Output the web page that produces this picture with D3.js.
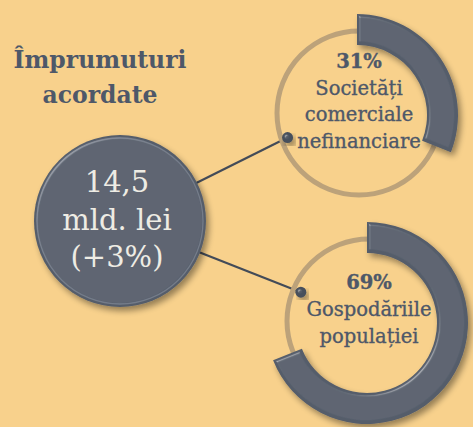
<!DOCTYPE html>
<html>
<head>
<meta charset="utf-8">
<script src="https://cdn.jsdelivr.net/npm/d3@7"></script>
<style>
  body { margin: 0; background: #F8D18C; }
  svg { display: block; }
</style>
</head>
<body>
<div id="canvas"></div>
<script>
"use strict"

/* chart data */
let titleLines = ["Împrumuturi", "acordate"];
let totalLines = ["14,5", "mld. lei", "(+3%)"];
let shares = [31, 69];
let segmentLabels = [["Societăți", "comerciale", "nefinanciare"], ["Gospodăriile", "populației"]];

/* layout */
let width = 473, height = 427;
let font = "'DejaVu Serif', 'Liberation Serif', serif";
let textColor = "#4E5869";
let darkFill = "#555D6B";

let drawing = d3.select("#canvas")
    .append("svg")
    .attr("width", width)
    .attr("height", height);

drawing.append("rect")
    .attr("width", width)
    .attr("height", height)
    .attr("fill", "#F8D18C");

/* filters: soft shadow + bevel highlight */
let defs = drawing.append("defs");
let bevel = defs.append("filter")
    .attr("id", "bevel")
    .attr("x", "-20%").attr("y", "-20%")
    .attr("width", "140%").attr("height", "140%");
bevel.append("feGaussianBlur").attr("in", "SourceAlpha").attr("stdDeviation", 3).attr("result", "shBlur");
bevel.append("feOffset").attr("in", "shBlur").attr("dx", 3).attr("dy", 4).attr("result", "shOff");
bevel.append("feComponentTransfer").attr("in", "shOff").attr("result", "shadow")
    .append("feFuncA").attr("type", "linear").attr("slope", 0.4);
bevel.append("feGaussianBlur").attr("in", "SourceAlpha").attr("stdDeviation", 1.6).attr("result", "blur");
bevel.append("feSpecularLighting")
    .attr("in", "blur")
    .attr("surfaceScale", 4)
    .attr("specularConstant", 0.5)
    .attr("specularExponent", 22)
    .attr("lighting-color", "#ffffff")
    .attr("result", "spec")
    .append("feDistantLight").attr("azimuth", 225).attr("elevation", 35);
bevel.append("feComposite").attr("in", "spec").attr("in2", "SourceAlpha").attr("operator", "in").attr("result", "specOut");
bevel.append("feComposite").attr("in", "SourceGraphic").attr("in2", "specOut")
    .attr("operator", "arithmetic").attr("k1", 0).attr("k2", 1).attr("k3", 0.6).attr("k4", 0).attr("result", "lit");
let merge = bevel.append("feMerge");
merge.append("feMergeNode").attr("in", "shadow");
merge.append("feMergeNode").attr("in", "lit");

/* title */
drawing.append("text")
    .attr("x", 100)
    .attr("y", 68)
    .attr("text-anchor", "middle")
    .attr("font-family", font)
    .attr("font-weight", "bold")
    .attr("font-size", 23.5)
    .attr("fill", textColor)
    .selectAll("tspan")
    .data(titleLines)
    .join("tspan")
    .attr("x", 100)
    .attr("dy", (d, i) => i === 0 ? 0 : 35)
    .text(d => d);

/* donuts */
let donutCenters = [[357, 115], [367, 323]];
let dotAngles = [-108, -65];   // degrees, clockwise from 12 o'clock
let bigCenter = [120, 221];

let pie = d3.pie().sort(null).value(d => d);
let arc = d3.arc().innerRadius(70).outerRadius(101);
let angle = d3.scaleLinear().domain([0, 360]).range([0, 2 * Math.PI]);

/* connector lines first so the big circle covers their start */
shares.forEach((s, i) => {
    let c = donutCenters[i];
    let a = angle(dotAngles[i]);
    let dx = c[0] + 73 * Math.sin(a), dy = c[1] - 73 * Math.cos(a);
    drawing.append("line")
        .attr("x1", bigCenter[0]).attr("y1", bigCenter[1])
        .attr("x2", dx).attr("y2", dy)
        .attr("stroke", "#434B58")
        .attr("stroke-width", 2.2);
});

shares.forEach((s, i) => {
    let c = donutCenters[i];
    let g = drawing.append("g").attr("transform", `translate(${c[0]},${c[1]})`);

    /* thin background ring */
    g.append("circle")
        .attr("cx", 2).attr("cy", -2)
        .attr("r", 82)
        .attr("fill", "none")
        .attr("stroke", "#BCA27A")
        .attr("stroke-width", 5);

    /* share arc */
    let slices = pie([s, 100 - s]);
    g.append("path")
        .attr("d", arc(slices[0]))
        .attr("fill", darkFill)
        .attr("filter", "url(#bevel)");

    /* dot on the ring */
    let a = angle(dotAngles[i]);
    g.append("circle")
        .attr("cx", 73 * Math.sin(a))
        .attr("cy", -73 * Math.cos(a))
        .attr("r", 5.5)
        .attr("fill", "#474F5C")
        .attr("filter", "url(#bevel)");

    /* label */
    let lines = [s + "%"].concat(segmentLabels[i]);
    let first = -7 - (lines.length - 1) / 2 * 26.6;
    g.append("text")
        .attr("text-anchor", "middle")
        .attr("font-family", font)
        .attr("font-size", 19.5)
        .attr("fill", textColor)
        .attr("stroke", textColor)
        .attr("stroke-width", 0.35)
        .selectAll("tspan")
        .data(lines)
        .join("tspan")
        .attr("x", 2)
        .attr("y", (d, j) => first + j * 26.6)
        .attr("font-weight", (d, j) => j === 0 ? "bold" : "normal")
        .text(d => d);
});

/* big total circle */
drawing.append("circle")
    .attr("cx", bigCenter[0])
    .attr("cy", bigCenter[1])
    .attr("r", 86)
    .attr("fill", darkFill)
    .attr("filter", "url(#bevel)");

drawing.append("circle")
    .attr("cx", bigCenter[0])
    .attr("cy", bigCenter[1])
    .attr("r", 83)
    .attr("fill", "none")
    .attr("stroke", "#8A919E")
    .attr("stroke-width", 1.3)
    .attr("opacity", 0.6);

drawing.append("text")
    .attr("text-anchor", "middle")
    .attr("font-family", font)
    .attr("font-size", 29)
    .attr("fill", "#EEECE4")
    .selectAll("tspan")
    .data(totalLines)
    .join("tspan")
    .attr("x", bigCenter[0] - 3)
    .attr("y", (d, i) => bigCenter[1] - 29 + i * 37.5)
    .text(d => d);
</script>
</body>
</html>
